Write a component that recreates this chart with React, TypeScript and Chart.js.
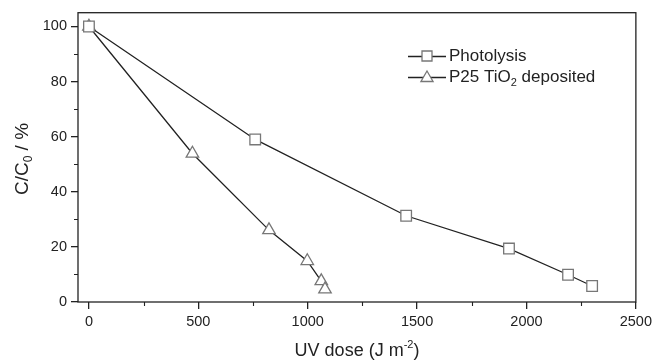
import React, { useEffect, useRef } from "react";
import { Chart, registerables } from "chart.js";

Chart.register(...registerables);

const photolysisDose = [0, 760, 1450, 1920, 2190, 2300];
const photolysisC = [100, 59, 31.3, 19.4, 9.9, 5.8];
const p25Dose = [0, 473, 823, 998, 1062, 1079];
const p25C = [100, 53.9, 26.1, 14.9, 7.6, 4.6];

const xMajorTicks = [0, 500, 1000, 1500, 2000, 2500];
const xMinorTicks = [250, 750, 1250, 1750, 2250];
const yMajorTicks = [0, 20, 40, 60, 80, 100];
const yMinorTicks = [10, 30, 50, 70, 90];

const seriesNames = ["Photolysis", "P25 TiO", "2", " deposited"];

const FONT = "'Liberation Sans', Arial, sans-serif";
const LINE = "#222";
const MARK = "#777";

const decorPlugin = {
  id: "decor",
  afterDraw(chart: any) {
    const ctx = chart.ctx;
    const a = chart.chartArea;
    const xs = chart.scales.x;
    const ys = chart.scales.y;
    ctx.save();
    // frame
    ctx.strokeStyle = LINE;
    ctx.lineWidth = 1.3;
    ctx.strokeRect(a.left, a.top, a.right - a.left, a.bottom - a.top);
    // minor ticks
    ctx.lineWidth = 1.1;
    ctx.beginPath();
    xMinorTicks.forEach((v) => {
      const px = Math.round(xs.getPixelForValue(v)) + 0.5;
      ctx.moveTo(px, a.bottom);
      ctx.lineTo(px, a.bottom + 4);
    });
    yMinorTicks.forEach((v) => {
      const py = Math.round(ys.getPixelForValue(v)) + 0.5;
      ctx.moveTo(a.left, py);
      ctx.lineTo(a.left - 4, py);
    });
    ctx.stroke();

    // x title
    ctx.fillStyle = "#222";
    ctx.textBaseline = "alphabetic";
    const big = "18px " + FONT;
    const small = "11px " + FONT;
    const parts: [string, string, number][] = [
      ["UV dose (J m", big, 0],
      ["-2", small, -8],
      [")", big, 0],
    ];
    let total = 0;
    parts.forEach(([t, f]) => {
      ctx.font = f;
      total += ctx.measureText(t).width;
    });
    let cx = 357 - total / 2;
    const by = 356;
    parts.forEach(([t, f, dy]) => {
      ctx.font = f;
      ctx.textAlign = "left";
      ctx.fillText(t, cx, by + dy);
      cx += ctx.measureText(t).width;
    });

    // y title rotated
    ctx.save();
    ctx.translate(28, 159);
    ctx.rotate(-Math.PI / 2);
    const ybig = "19px " + FONT;
    const ysmall = "12px " + FONT;
    const yparts: [string, string, number][] = [
      ["C/C", ybig, 0],
      ["0", ysmall, 4],
      [" / %", ybig, 0],
    ];
    let ytot = 0;
    yparts.forEach(([t, f]) => {
      ctx.font = f;
      ytot += ctx.measureText(t).width;
    });
    let yx = -ytot / 2;
    yparts.forEach(([t, f, dy]) => {
      ctx.font = f;
      ctx.fillText(t, yx, dy);
      yx += ctx.measureText(t).width;
    });
    ctx.restore();

    // legend
    const legFont = "17px " + FONT;
    const legSmall = "11px " + FONT;
    const rows = [
      { y: 56, style: "rect", label: [[seriesNames[0], 0]] },
      {
        y: 77,
        style: "triangle",
        label: [
          [seriesNames[1], 0],
          [seriesNames[2], 1],
          [seriesNames[3], 0],
        ],
      },
    ];
    rows.forEach((r: any) => {
      ctx.strokeStyle = LINE;
      ctx.lineWidth = 1.3;
      ctx.beginPath();
      ctx.moveTo(408, r.y + 0.5);
      ctx.lineTo(446, r.y + 0.5);
      ctx.stroke();
      ctx.fillStyle = "#fff";
      ctx.strokeStyle = MARK;
      ctx.lineWidth = 1.3;
      ctx.beginPath();
      if (r.style === "rect") {
        ctx.rect(422, r.y - 5, 10, 10);
      } else {
        const rr = 7;
        ctx.moveTo(427, r.y - rr + 1);
        ctx.lineTo(427 + rr * 0.866, r.y + rr / 2 + 1);
        ctx.lineTo(427 - rr * 0.866, r.y + rr / 2 + 1);
        ctx.closePath();
      }
      ctx.fill();
      ctx.stroke();
      ctx.fillStyle = "#222";
      ctx.textBaseline = "middle";
      let lx = 449;
      r.label.forEach(([t, sub]: any) => {
        ctx.font = sub ? legSmall : legFont;
        ctx.fillText(t, lx, r.y + (sub ? 6 : 0));
        lx += ctx.measureText(t).width;
      });
    });
    ctx.restore();
  },
};

export default function App() {
  const ref = useRef<HTMLCanvasElement | null>(null);
  useEffect(() => {
    if (!ref.current) return;
    const chart = new Chart(ref.current, {
      type: "scatter",
      data: {
        datasets: [
          {
            label: seriesNames[0],
            data: photolysisDose.map((x, i) => ({ x, y: photolysisC[i] })),
            showLine: true,
            borderColor: LINE,
            borderWidth: 1.3,
            pointStyle: "rect",
            pointRadius: 7.5,
            pointBorderColor: MARK,
            pointBackgroundColor: "#fff",
            pointBorderWidth: 1.3,
          },
          {
            label: seriesNames[1] + seriesNames[2] + seriesNames[3],
            data: p25Dose.map((x, i) => ({ x, y: p25C[i] })),
            showLine: true,
            borderColor: LINE,
            borderWidth: 1.3,
            pointStyle: "triangle",
            pointRadius: 7.2,
            pointBorderColor: MARK,
            pointBackgroundColor: "#fff",
            pointBorderWidth: 1.3,
          },
        ],
      },
      options: {
        animation: false,
        responsive: false,
        layout: { padding: { top: 12, right: 20, left: 0, bottom: 0 } },
        plugins: { legend: { display: false }, tooltip: { enabled: false } },
        scales: {
          x: {
            type: "linear",
            min: -50,
            max: 2500,
            afterBuildTicks: (s: any) => {
              s.ticks = xMajorTicks.map((v) => ({ value: v }));
            },
            afterFit: (s: any) => {
              s.height = 60;
            },
            border: { display: false },
            grid: {
              drawOnChartArea: false,
              drawTicks: true,
              tickLength: 7,
              color: LINE,
              lineWidth: 1.3,
            },
            ticks: {
              padding: 4,
              color: "#222",
              font: { family: FONT, size: 14.5 },
              maxRotation: 0,
              autoSkip: false,
              callback: (v: any) => String(v),
            },
          },
          y: {
            type: "linear",
            min: 0,
            max: 105,
            afterBuildTicks: (s: any) => {
              s.ticks = yMajorTicks.map((v) => ({ value: v }));
            },
            afterFit: (s: any) => {
              s.width = 78;
            },
            border: { display: false },
            grid: {
              drawOnChartArea: false,
              drawTicks: true,
              tickLength: 7,
              color: LINE,
              lineWidth: 1.3,
            },
            ticks: {
              padding: 4,
              color: "#222",
              font: { family: FONT, size: 14.5 },
              autoSkip: false,
              callback: (v: any) => String(v),
            },
          },
        },
      },
      plugins: [decorPlugin],
    } as any);
    return () => chart.destroy();
  }, []);
  return (
    <div style={{ position: "absolute", left: 0, top: 0, width: 656, height: 362, background: "#fff" }}>
      <canvas ref={ref} width={656} height={362} />
    </div>
  );
}
